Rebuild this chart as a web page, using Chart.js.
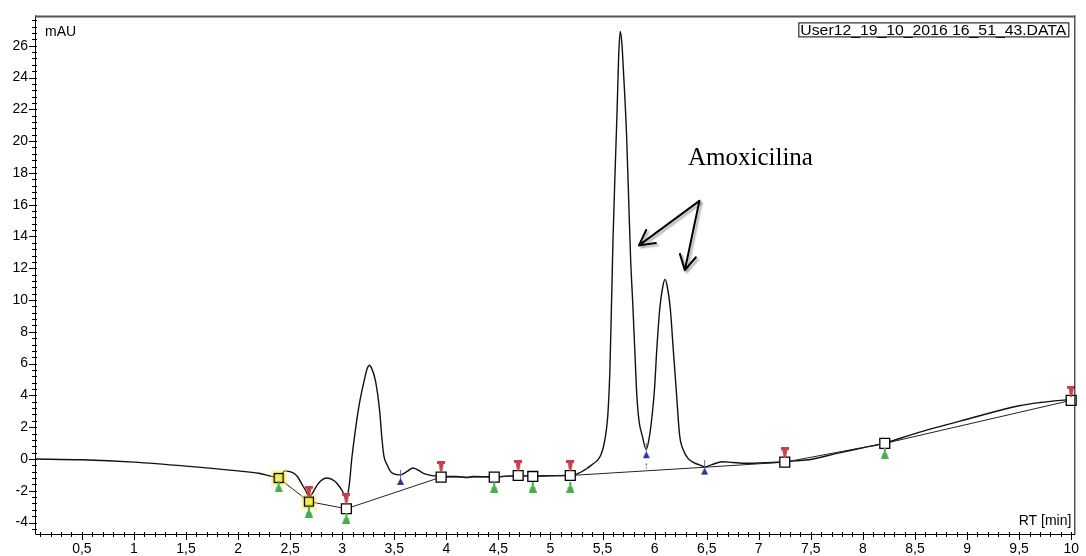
<!DOCTYPE html>
<html>
<head>
<meta charset="utf-8">
<script src="https://cdn.jsdelivr.net/npm/chart.js@4.4.0/dist/chart.umd.min.js"></script>
<style>
html, body { margin: 0; padding: 0; background: #fff; }
</style>
</head>
<body>
<canvas id="c" width="1086" height="556"></canvas>
<script>
// Signal du chromatogramme (RT en min, mAU)
const rtSignal = [0.05, 0.5, 1.0, 1.5, 2.0, 2.2, 2.39, 2.45, 2.52, 2.57, 2.61, 2.65, 2.68, 2.71, 2.74, 2.79, 2.85, 2.93, 2.97, 3.0, 3.04,
  3.07, 3.09, 3.12, 3.16, 3.21, 3.24, 3.26, 3.28, 3.32, 3.36, 3.38, 3.40, 3.43, 3.46, 3.49, 3.56, 3.62, 3.68, 3.73, 3.78, 3.85, 3.95,
  4.1, 4.2, 4.25, 4.46, 4.69, 4.83, 5.0, 5.19, 5.25, 5.35, 5.41, 5.44, 5.48, 5.51, 5.54, 5.555, 5.57, 5.585, 5.60, 5.62, 5.64, 5.655,
  5.67, 5.685, 5.70, 5.73, 5.75, 5.77, 5.79, 5.81, 5.83, 5.85, 5.88, 5.92, 5.95, 5.98, 6.0, 6.02, 6.05, 6.08, 6.10, 6.12, 6.15, 6.18,
  6.21, 6.24, 6.28, 6.32, 6.38, 6.43, 6.48, 6.55, 6.65, 6.75, 6.88, 7.0, 7.25, 7.35, 7.5, 7.75, 8.0, 8.21, 8.5, 9.0, 9.5, 9.7, 10.0]
const mauSignal = [0.0, -0.05, -0.2, -0.45, -0.75, -0.9, -1.15, -0.75, -0.85, -1.1, -1.55, -2.0, -2.35, -2.2, -1.85, -1.4, -1.2, -1.4, -1.7, -2.0, -2.5,
  -1.5, -0.1, 1.5, 3.3, 4.9, 5.7, 5.9, 5.75, 4.9, 3.0, 1.4, 0.2, -0.35, -0.75, -0.92, -1.0, -0.8, -0.57, -0.7, -0.9, -1.03, -1.1,
  -1.1, -1.17, -1.1, -1.12, -1.05, -1.07, -1.05, -1.02, -0.95, -0.6, -0.3, -0.15, 0.2, 0.8, 2.0, 3.2, 5.5, 9.5, 13.7, 18.0, 22.0, 25.4,
  26.9, 26.2, 24.5, 20.5, 16.5, 12.5, 9.8, 6.8, 3.9, 2.4, 1.5, 0.6, 1.4, 3.0, 4.5, 6.8, 9.5, 10.9, 11.3, 10.9, 9.5, 6.8,
  4.1, 1.5, 0.5, 0.04, -0.25, -0.37, -0.5, -0.35, -0.17, -0.22, -0.27, -0.25, -0.17, -0.12, -0.03, 0.35, 0.7, 1.0, 1.6, 2.5, 3.35, 3.55, 3.75]

// Ligne de base d'intégration
const rtBase = [2.39, 2.68, 3.04, 3.95, 4.46, 4.69, 4.83, 5.19, 6.48, 7.25, 8.21, 10.0]
const mauBase = [-1.2, -2.68, -3.13, -1.14, -1.14, -1.04, -1.1, -1.04, -0.52, -0.2, 0.98, 3.69]

// Marqueurs (carrés, début/fin en rouge/vert, vallées en bleu)
const rtSquare = [2.39, 2.68, 3.04, 3.95, 4.46, 4.69, 4.83, 5.19, 7.25, 8.21, 10.0]
const mauSquare = [-1.2, -2.68, -3.13, -1.14, -1.14, -1.04, -1.1, -1.04, -0.2, 0.98, 3.69]
const rtRed = [2.68, 3.04, 3.95, 4.69, 5.19, 7.25, 10.0]
const mauRed = [-2.03, -2.47, -0.47, -0.41, -0.41, 0.4, 4.27]
const rtGreen = [2.39, 2.68, 3.04, 4.46, 4.83, 5.19, 8.21]
const mauGreen = [-1.75, -3.34, -3.72, -1.77, -1.77, -1.77, 0.34]
const rtBlue = [3.56, 5.92, 6.48]
const mauBlue = [-1.19, 0.49, -0.54]
const rtDash = [5.92, 5.92]
const mauDash = [-0.28, -0.6]

const X_TICKS = [0.5, 1, 1.5, 2, 2.5, 3, 3.5, 4, 4.5, 5, 5.5, 6, 6.5, 7, 7.5, 8, 8.5, 9, 9.5, 10]
const Y_TICKS = [-4, -2, 0, 2, 4, 6, 8, 10, 12, 14, 16, 18, 20, 22, 24, 26]

// Annotation (coordonnées données)
const NOTE = { text: 'Amoxicilina', x: 6.32, y: 18.5, from: [6.43, 16.24], to: [[5.85, 13.44], [6.29, 11.88]] }

const FONT = '"Liberation Sans", Arial, sans-serif'
const pts = (xs, ys) => xs.map((x, i) => ({ x, y: ys[i] }))

// Petites icônes des marqueurs
function glyph(w, h, draw) {
  const c = document.createElement('canvas')
  c.width = w
  c.height = h
  draw(c.getContext('2d'))
  return c
}
const redPin = glyph(8, 11, g => {
  g.fillStyle = '#c6404c'
  g.fillRect(0, 0, 8, 3)
  g.beginPath(); g.moveTo(1.5, 3); g.lineTo(6.5, 3); g.lineTo(5, 11); g.lineTo(3, 11); g.fill()
})
const greenPin = glyph(8, 11, g => {
  g.fillStyle = '#45b04a'
  g.fillRect(3, 0, 2, 5)
  g.beginPath(); g.moveTo(2, 5); g.lineTo(6, 5); g.lineTo(8, 11); g.lineTo(0, 11); g.fill()
})
const bluePin = glyph(7, 16, g => {
  g.strokeStyle = '#5d66c0'
  g.lineWidth = 1
  g.beginPath(); g.moveTo(3.5, 0); g.lineTo(3.5, 9); g.stroke()
  g.fillStyle = '#26339c'
  g.beginPath(); g.moveTo(3.5, 8); g.lineTo(7, 15); g.lineTo(0, 15); g.fill()
})
// Carré jaune avec halo
const yellowSq = glyph(16, 16, g => {
  g.fillStyle = 'rgba(245, 240, 80, 0.45)'
  g.fillRect(0, 0, 16, 16)
  g.fillStyle = '#f3ee4c'
  g.fillRect(3, 3, 10, 10)
  g.strokeStyle = '#000'
  g.lineWidth = 1.3
  g.strokeRect(3.5, 3.5, 9, 9)
})

const markerSet = (data, style, order) => ({
  data, pointStyle: style, pointRadius: 4, showLine: false, clip: false, order
})

// Graduations, cadre et textes
const deco = {
  id: 'deco',
  afterDraw(chart) {
    const { ctx, chartArea: a, scales: { x, y } } = chart
    ctx.save()
    ctx.lineWidth = 1
    ctx.strokeStyle = '#000'
    ctx.beginPath()
    for (let i = Math.ceil(x.min * 10); i <= Math.floor(x.max * 10); i++) {
      const px = Math.round(x.getPixelForValue(i / 10)) + 0.5
      ctx.moveTo(px, a.bottom - 2)
      ctx.lineTo(px, a.bottom + (i % 5 === 0 ? 6 : 3))
    }
    for (let i = Math.ceil(y.min / 0.4); i <= Math.floor(y.max / 0.4); i++) {
      const py = Math.round(y.getPixelForValue(i * 0.4)) + 0.5
      ctx.moveTo(a.left - (i % 5 === 0 ? 6 : 3), py)
      ctx.lineTo(a.left + 2, py)
    }
    ctx.moveTo(a.left + 0.5, a.top)
    ctx.lineTo(a.left + 0.5, a.bottom + 0.5)
    ctx.lineTo(a.right, a.bottom + 0.5)
    ctx.moveTo(a.right - 0.5, a.top)
    ctx.lineTo(a.right - 0.5, a.bottom)
    ctx.stroke()
    ctx.strokeStyle = '#555'
    ctx.lineWidth = 2
    ctx.beginPath()
    ctx.moveTo(a.left, a.top + 1)
    ctx.lineTo(a.right, a.top + 1)
    ctx.stroke()

    ctx.fillStyle = '#000'
    ctx.font = '14px ' + FONT
    ctx.textBaseline = 'alphabetic'
    ctx.textAlign = 'left'
    ctx.fillText('mAU', a.left + 10, a.top + 21)
    ctx.textAlign = 'right'
    ctx.fillText('RT [min]', a.right - 4, a.bottom - 9)

    // Nom du fichier encadré
    const name = 'User12_19_10_2016 16_51_43.DATA'
    ctx.textAlign = 'left'
    const w = ctx.measureText(name).width
    const boxW = 270
    ctx.save()
    ctx.translate(a.right - 7 - boxW + 2, a.top + 19.5)
    ctx.scale((boxW - 4) / w, 1)
    ctx.fillText(name, 0, 0)
    ctx.restore()
    ctx.lineWidth = 1
    ctx.strokeStyle = '#000'
    ctx.strokeRect(a.right - 7 - boxW + 0.5, a.top + 7.5, boxW, 14)

    // Annotation Amoxicilina
    ctx.font = '25px "Liberation Serif", "Times New Roman", serif'
    ctx.fillText(NOTE.text, x.getPixelForValue(NOTE.x), y.getPixelForValue(NOTE.y))
    const sx = x.getPixelForValue(NOTE.from[0])
    const sy = y.getPixelForValue(NOTE.from[1])
    ctx.shadowColor = 'rgba(0,0,0,0.35)'
    ctx.shadowOffsetX = 2
    ctx.shadowOffsetY = 2
    ctx.shadowBlur = 2
    ctx.lineWidth = 2
    ctx.lineCap = 'round'
    NOTE.to.forEach(([tx, ty]) => {
      const ex = x.getPixelForValue(tx)
      const ey = y.getPixelForValue(ty)
      const ang = Math.atan2(ey - sy, ex - sx)
      ctx.beginPath()
      ctx.moveTo(sx, sy)
      ctx.lineTo(ex, ey)
      for (const d of [-0.5, 0.5]) {
        ctx.moveTo(ex, ey)
        ctx.lineTo(ex - 17 * Math.cos(ang + d), ey - 17 * Math.sin(ang + d))
      }
      ctx.stroke()
    })
    ctx.restore()
  }
}

new Chart(document.getElementById('c'), {
  type: 'line',
  data: {
    datasets: [
      markerSet(pts(rtRed, mauRed), redPin, 1),
      markerSet(pts(rtGreen, mauGreen), greenPin, 1),
      markerSet(pts(rtBlue, mauBlue), bluePin, 1),
      {
        data: pts(rtSquare, mauSquare),
        showLine: false,
        clip: false,
        pointStyle: ctx => ctx.dataIndex < 2 ? yellowSq : 'rect',
        pointRadius: 7,
        pointBorderWidth: 1.3,
        pointBorderColor: '#000',
        pointBackgroundColor: '#fff',
        order: 2,
      },
      {
        data: pts(rtDash, mauDash),
        borderColor: '#333',
        borderWidth: 1,
        borderDash: [2, 2],
        pointRadius: 0,
        order: 3,
      },
      {
        data: pts(rtBase, mauBase),
        borderColor: '#222',
        borderWidth: 1,
        pointRadius: 0,
        tension: 0,
        order: 4,
      },
      {
        data: pts(rtSignal, mauSignal),
        borderColor: '#111',
        borderWidth: 1.4,
        pointRadius: 0,
        cubicInterpolationMode: 'monotone',
        order: 5,
      },
    ],
  },
  options: {
    responsive: false,
    animation: false,
    events: [],
    layout: { padding: { left: 0, top: 11, right: 10, bottom: 0 } },
    plugins: { legend: { display: false }, tooltip: { enabled: false } },
    scales: {
      x: {
        type: 'linear',
        min: 0.05,
        max: 10.04,
        grid: { display: false, drawTicks: false },
        border: { display: false },
        afterFit: s => { s.height = 22 },
        afterBuildTicks: s => { s.ticks = X_TICKS.map(value => ({ value })) },
        ticks: {
          padding: 7,
          color: '#000',
          font: { family: FONT, size: 14 },
          maxRotation: 0,
          autoSkip: false,
          callback: v => String(v).replace('.', ','),
        },
      },
      y: {
        type: 'linear',
        min: -4.72,
        max: 27.91,
        grid: { display: false, drawTicks: false },
        border: { display: false },
        afterFit: s => { s.width = 35 },
        afterBuildTicks: s => { s.ticks = Y_TICKS.map(value => ({ value })) },
        ticks: {
          padding: 7,
          color: '#000',
          font: { family: FONT, size: 14 },
          autoSkip: false,
          callback: v => String(v),
        },
      },
    },
  },
  plugins: [deco],
})
</script>
</body>
</html>
